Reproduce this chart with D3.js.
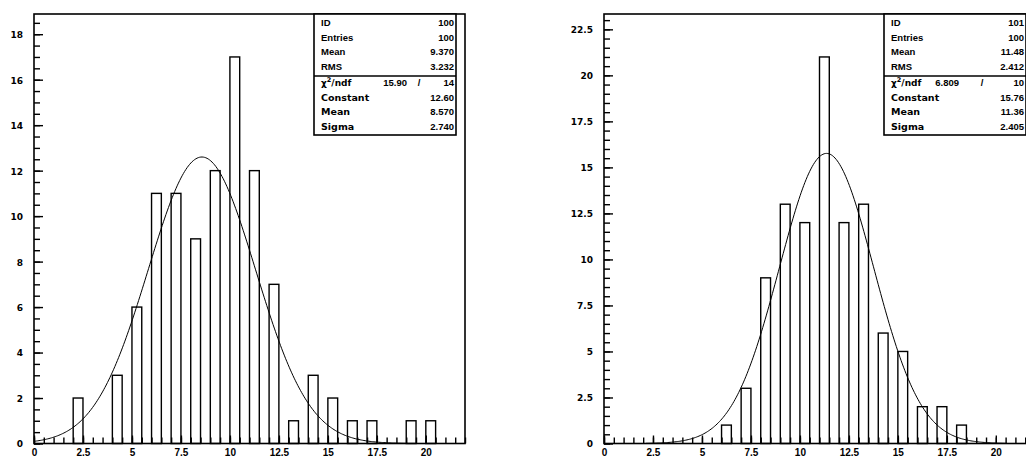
<!DOCTYPE html>
<html>
<head>
<meta charset="utf-8">
<script src="https://cdn.jsdelivr.net/npm/d3@7"></script>
<style>
  body { margin: 0; background: #fff; }
  svg { display: block; }
</style>
</head>
<body>
<svg id="chart" width="1026" height="457"></svg>
<script>
// Histogram 100: low edge of each filled bin (bin width 0.5) and its content
const lowEdges100 = [2, 4, 5, 6, 7, 8, 9, 10, 11, 12, 13, 14, 15, 16, 17, 19, 20];
const counts100   = [2, 3, 6, 11, 11, 9, 12, 17, 12, 7, 1, 3, 2, 1, 1, 1, 1];

// Histogram 101
const lowEdges101 = [6, 7, 8, 9, 10, 11, 12, 13, 14, 15, 16, 17, 18];
const counts101   = [1, 3, 9, 13, 12, 21, 12, 13, 6, 5, 2, 2, 1];

const binWidth = 0.5;
const xRange = [0, 22];

// Statistics box contents
const statNames = ["ID", "Entries", "Mean", "RMS"];
const stats100 = ["100", "100", "9.370", "3.232"];
const stats101 = ["101", "100", "11.48", "2.412"];

// Gaussian fit results: Constant, Mean, Sigma
const fitNames = ["Constant", "Mean", "Sigma"];
const fit100 = [12.60, 8.570, 2.740];
const fit101 = [15.76, 11.36, 2.405];
const chi2ndf100 = [15.90, 14];
const chi2ndf101 = [6.809, 10];

// Axis labels
const xTickValues = [0, 2.5, 5, 7.5, 10, 12.5, 15, 17.5, 20];
const yTickValues100 = [0, 2, 4, 6, 8, 10, 12, 14, 16, 18];
const yTickValues101 = [0, 2.5, 5, 7.5, 10, 12.5, 15, 17.5, 20, 22.5];

const svg = d3.select("#chart");
svg.append("rect").attr("width", 1026).attr("height", 457).attr("fill", "#fff");

const panels = [
  { id: "h100", edges: lowEdges100, counts: counts100, stats: stats100, fit: fit100, chi: chi2ndf100,
    yTicks: yTickValues100, left: 34, chiValueX: 93, chiSlashX: 105 },
  { id: "h101", edges: lowEdges101, counts: counts101, stats: stats101, fit: fit101, chi: chi2ndf101,
    yTicks: yTickValues101, left: 604, chiValueX: 75, chiSlashX: 98 }
];

const frameTop = 14, frameBottom = 443.5, frameWidth = 431;
const boxWidth = 142, boxHeight = 121, boxInset = 9;
const fmt4 = d3.format(".4r");
const labelFont = "'Liberation Sans', Arial, sans-serif";
const wideFont = "'DejaVu Sans', sans-serif";

panels.forEach(p => {
  const g = svg.append("g");
  const x = d3.scaleLinear().domain(xRange).range([p.left, p.left + frameWidth]);
  const yMax = d3.max(p.counts) / 0.9;
  const y = d3.scaleLinear().domain([0, yMax]).range([frameBottom, frameTop]);

  g.append("clipPath").attr("id", "clip-" + p.id)
    .append("rect")
    .attr("x", p.left).attr("y", frameTop)
    .attr("width", frameWidth).attr("height", frameBottom - frameTop);

  // bars
  g.append("g")
    .selectAll("rect")
    .data(p.edges.map((e, i) => ({ x0: e, n: p.counts[i] })))
    .join("rect")
    .attr("x", d => x(d.x0))
    .attr("y", d => y(d.n))
    .attr("width", d => x(d.x0 + binWidth) - x(d.x0))
    .attr("height", d => y(0) - y(d.n))
    .attr("fill", "#fff")
    .attr("stroke", "#000")
    .attr("stroke-width", 1.4);

  // fitted gaussian
  const [c, mu, sigma] = p.fit;
  const gauss = v => c * Math.exp(-0.5 * ((v - mu) / sigma) ** 2);
  const lo = Math.max(xRange[0], mu - 3.83 * sigma);
  const hi = Math.min(xRange[1], mu + 3.83 * sigma);
  const samples = d3.range(0, 301).map(i => lo + (hi - lo) * i / 300);
  g.append("path")
    .attr("clip-path", "url(#clip-" + p.id + ")")
    .attr("d", d3.line().x(v => x(v)).y(v => y(gauss(v)))(samples))
    .attr("fill", "none")
    .attr("stroke", "#000")
    .attr("stroke-width", 1);

  // y axis: minor ticks every 0.5, major ticks with labels
  const yMinor = d3.range(0, yMax, 0.5);
  g.append("g")
    .attr("transform", `translate(${p.left},0)`)
    .call(d3.axisLeft(y).tickValues(yMinor).tickSize(-6).tickFormat(""))
    .call(a => a.select(".domain").remove());
  g.append("g")
    .attr("transform", `translate(${p.left},0)`)
    .call(d3.axisLeft(y).tickValues(p.yTicks).tickSize(-9).tickPadding(11).tickFormat(d3.format("")))
    .call(a => a.select(".domain").remove())
    .call(a => a.selectAll("text")
      .attr("font-family", wideFont).attr("font-weight", "bold")
      .attr("font-size", "9px").attr("fill", "#000").attr("dy", "0.38em"));

  // x axis
  const xMinor = d3.range(0, xRange[1] + 0.001, 0.5);
  g.append("g")
    .attr("transform", `translate(0,${frameBottom})`)
    .call(d3.axisBottom(x).tickValues(xMinor).tickSize(-6).tickFormat(""))
    .call(a => a.select(".domain").remove());
  g.append("g")
    .attr("transform", `translate(0,${frameBottom})`)
    .call(d3.axisBottom(x).tickValues(xTickValues).tickSize(-8).tickPadding(5).tickFormat(d3.format("")))
    .call(a => a.select(".domain").remove())
    .call(a => a.selectAll("text")
      .attr("font-family", labelFont).attr("font-weight", "bold")
      .attr("font-size", "10px").attr("fill", "#000"));

  g.selectAll(".tick line").attr("stroke", "#000").attr("stroke-width", 1.4);

  // frame
  g.append("rect")
    .attr("x", p.left).attr("y", frameTop)
    .attr("width", frameWidth).attr("height", frameBottom - frameTop)
    .attr("fill", "none").attr("stroke", "#000").attr("stroke-width", 1.6);

  // statistics box
  const bx = p.left + frameWidth - boxInset - boxWidth;
  const box = g.append("g");
  box.append("rect")
    .attr("x", bx).attr("y", frameTop)
    .attr("width", boxWidth).attr("height", boxHeight)
    .attr("fill", "#fff").attr("stroke", "#000").attr("stroke-width", 1.6);
  box.append("line")
    .attr("x1", bx).attr("x2", bx + boxWidth)
    .attr("y1", frameTop + 62).attr("y2", frameTop + 62)
    .attr("stroke", "#000").attr("stroke-width", 1.6);

  const rowY = i => frameTop + 12 + i * 14.7 + (i >= 4 ? 1 : 0);
  const txt = (s, xx, i, anchor, size, family) => box.append("text")
    .attr("x", xx).attr("y", rowY(i))
    .attr("text-anchor", anchor)
    .attr("font-family", family || labelFont)
    .attr("font-weight", "bold")
    .attr("font-size", size)
    .attr("fill", "#000")
    .text(s);

  statNames.forEach((name, i) => {
    txt(name, bx + 7, i, "start", "9.5px");
    txt(p.stats[i], bx + boxWidth - 2, i, "end", "9.5px");
  });

  // chi2 / ndf line
  const chi = txt("", bx + 7, 4, "start", "9px", wideFont);
  chi.append("tspan").text("\u03C7");
  chi.append("tspan").attr("dy", -4).attr("font-size", "6.5px").text("2");
  chi.append("tspan").attr("dy", 4).text("/ndf");
  txt(fmt4(p.chi[0]), bx + p.chiValueX, 4, "end", "9.5px");
  txt("/", bx + p.chiSlashX, 4, "middle", "9.5px");
  txt(String(p.chi[1]), bx + boxWidth - 2, 4, "end", "9.5px");

  fitNames.forEach((name, i) => {
    txt(name, bx + 7, i + 5, "start", "9.5px", wideFont);
    txt(fmt4(p.fit[i]), bx + boxWidth - 2, i + 5, "end", "9.5px");
  });
});
</script>
</body>
</html>
